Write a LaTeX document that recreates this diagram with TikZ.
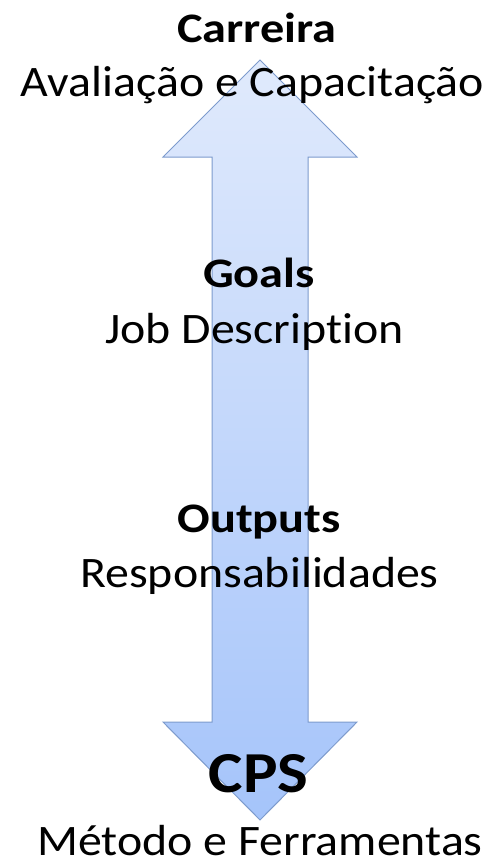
\documentclass[tikz,border=0pt]{standalone}
\usepackage{fontspec}
\setmainfont[Ligatures=NoCommon,FakeStretch=1.10]{Carlito}
\newfontfamily\headfont[Ligatures=NoCommon,FakeStretch=1.15]{Carlito}
\newfontfamily\cpsfont[Ligatures=NoCommon,FakeStretch=1.12]{Carlito}
\definecolor{arrowtop}{RGB}{224,234,252}
\definecolor{arrowbot}{RGB}{165,196,250}
\definecolor{arrowline}{RGB}{125,155,205}
\begin{document}
\begin{tikzpicture}[x=1pt,y=-1pt,
    head/.style={anchor=base,inner sep=0pt,font=\headfont\bfseries\fontsize{42}{44}\selectfont},
    body/.style={anchor=base,inner sep=0pt,font=\fontsize{43.5}{46}\selectfont}]
  \useasboundingbox (0,0) rectangle (501,864);
  \draw[arrowline,line width=1pt,top color=arrowtop,bottom color=arrowbot]
    (260,60) -- (357,157) -- (308,157) -- (308,722) -- (357,722)
    -- (260,820) -- (163,722) -- (212,722) -- (212,157) -- (163,157) -- cycle;
  \node[head] (carreira) at (257,43) {Carreira};
  \node[body] (avaliacao) at (252.5,97) {Avaliação e Capacitação};
  \node[head] (goals) at (259,287) {Goals};
  \node[body] (job) at (254.5,343) {Job Description};
  \node[head] (outputs) at (259,532) {Outputs};
  \node[body] (resp) at (259.5,587) {Responsabilidades};
  \node[anchor=base,inner sep=0pt,font=\cpsfont\bfseries\fontsize{58}{60}\selectfont] (cps) at (258.5,792) {CPS};
  \node[body] (metodo) at (260,855) {Método e Ferramentas};
\end{tikzpicture}
\end{document}
